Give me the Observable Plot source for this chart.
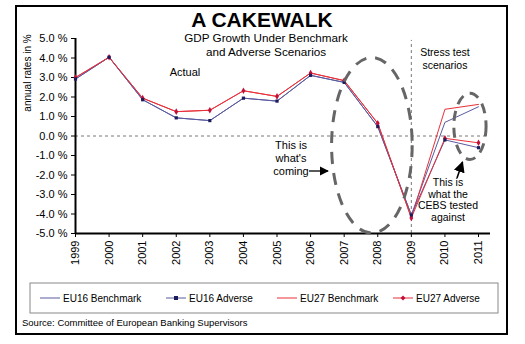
<!DOCTYPE html>
<html>
<head>
<meta charset="utf-8">
<script src="https://cdn.jsdelivr.net/npm/d3@7"></script>
<script src="https://cdn.jsdelivr.net/npm/@observablehq/plot@0.6"></script>
<style>
  html, body { margin: 0; padding: 0; background: #fff; }
  #chart { width: 525px; height: 344px; position: relative; }
  svg { font-family: "Liberation Sans", Arial, sans-serif; }
</style>
</head>
<body>
<div id="chart"></div>
<script>
// ---- data ----
const years = [1999, 2000, 2001, 2002, 2003, 2004, 2005, 2006, 2007, 2008, 2009, 2010, 2011];
const eu16Benchmark = [2.92, 4.04, 1.86, 0.93, 0.79, 1.94, 1.79, 3.11, 2.75, 0.48, -4.05, 0.70, 1.50];
const eu16Adverse   = [2.92, 4.04, 1.86, 0.93, 0.79, 1.94, 1.79, 3.11, 2.75, 0.48, -4.05, -0.20, -0.60];
const eu27Benchmark = [3.00, 4.04, 1.94, 1.25, 1.32, 2.32, 2.03, 3.23, 2.84, 0.65, -4.20, 1.37, 1.62];
const eu27Adverse   = [3.00, 4.04, 1.94, 1.25, 1.32, 2.32, 2.03, 3.23, 2.84, 0.65, -4.20, -0.12, -0.35];
const yTicks = [-5, -4, -3, -2, -1, 0, 1, 2, 3, 4, 5];
const seriesNames = ["EU16 Benchmark", "EU16 Adverse", "EU27 Benchmark", "EU27 Adverse"];
const titleText = "A CAKEWALK";
const subtitleLines = ["GDP Growth Under Benchmark", "and Adverse Scenarios"];
const yLabel = "annual rates in %";
const sourceText = "Source: Committee of European Banking Supervisors";
const stressYear = 2009;

const blue = "#5a5aa0", navy = "#1c1c5c", red = "#e8303a", darkRed = "#c0103a";
const xMax = 2011.357;

const rows = (vals) => years.map((yr, i) => ({year: yr, v: vals[i]}));

const chart = Plot.plot({
  width: 525,
  height: 344,
  marginLeft: 75,
  marginRight: 35,
  marginTop: 38,
  marginBottom: 111,
  style: {fontFamily: "Liberation Sans, Arial, sans-serif", background: "#fff", overflow: "visible"},
  x: {domain: [1999, xMax]},
  y: {domain: [-5, 5]},
  marks: [
    Plot.ruleY([0], {x1: 1999, x2: 2011.3, stroke: "#555", strokeWidth: 0.8, strokeDasharray: "3,3"}),
    Plot.ruleX([stressYear], {y1: -5, y2: 4.9, stroke: "#555", strokeWidth: 0.8, strokeDasharray: "3,3"}),
    Plot.axisY({ticks: yTicks, tickFormat: d => d.toFixed(1) + " %", tickSize: 4, tickPadding: 4, fontSize: 11, label: null, stroke: "#000", color: "#000"}),
    Plot.axisX({ticks: years, tickFormat: d => String(d), tickSize: 4, tickPadding: 3, tickRotate: -90, fontSize: 11, label: null, color: "#000"}),
    Plot.ruleX([1999], {y1: -5, y2: 5, stroke: "#000", strokeWidth: 2}),
    Plot.ruleY([-5], {x1: 1999, x2: xMax, stroke: "#000", strokeWidth: 2}),
    Plot.line(rows(eu16Benchmark), {x: "year", y: "v", stroke: blue, strokeWidth: 1}),
    Plot.line(rows(eu27Benchmark), {x: "year", y: "v", stroke: red, strokeWidth: 1}),
    Plot.line(rows(eu16Adverse), {x: "year", y: "v", stroke: blue, strokeWidth: 1}),
    Plot.line(rows(eu27Adverse), {x: "year", y: "v", stroke: red, strokeWidth: 1}),
    Plot.dot(rows(eu27Adverse), {x: "year", y: "v", symbol: "diamond", r: 2, fill: darkRed}),
    Plot.dot(rows(eu16Adverse), {x: "year", y: "v", symbol: "square", r: 1.8, fill: navy})
  ]
});

document.getElementById("chart").appendChild(chart);

const svg = d3.select(chart);
const xs = chart.scale("x"), ys = chart.scale("y");
const X = v => xs.apply(v), Y = v => ys.apply(v);
const pxPerYear = X(2000) - X(1999), pxPerUnit = Y(0) - Y(1);

// frame
svg.append("rect").attr("x", 16).attr("y", 6).attr("width", 491).attr("height", 328)
  .attr("fill", "none").attr("stroke", "#000").attr("stroke-width", 2);

// titles
svg.append("text").attr("x", 262).attr("y", 27).attr("text-anchor", "middle")
  .attr("font-size", 21).attr("font-weight", "bold").text(titleText);
subtitleLines.forEach((t, i) => {
  svg.append("text").attr("x", 266).attr("y", 42 + i * 14).attr("text-anchor", "middle")
    .attr("font-size", 11.7).text(t);
});
svg.append("text").attr("transform", "translate(31,73) rotate(-90)").attr("text-anchor", "middle")
  .attr("font-size", 10).text(yLabel);

// annotations
const ann = (lines, x, y, step, size) => lines.forEach((t, i) =>
  svg.append("text").attr("x", x).attr("y", y + i * step).attr("text-anchor", "middle")
    .attr("font-size", size).text(t));
ann(["Actual"], 185, 76, 0, 11);
ann(["Stress test", "scenarios"], 445, 56, 12.5, 10.5);
ann(["This is", "what's", "coming"], 291, 149, 13, 11);
ann(["This is", "what the", "CEBS tested", "against"], 448, 186, 11.5, 10.5);

// ellipses (data coordinates)
const ellipses = [
  {year: 2007.84, v: -0.5, ry: 4.5, rxYears: 1.2, dash: "12,9"},
  {year: 2010.76, v: 0.47, ry: 1.7, rxYears: 0.48, dash: "10,7"}
];
ellipses.forEach(e => {
  svg.append("ellipse").attr("cx", X(e.year)).attr("cy", Y(e.v))
    .attr("rx", e.rxYears * pxPerYear).attr("ry", e.ry * pxPerUnit)
    .attr("fill", "none").attr("stroke", "#666").attr("stroke-width", 3)
    .attr("stroke-dasharray", e.dash);
});

// arrows
const defs = svg.append("defs");
defs.append("marker").attr("id", "ah").attr("viewBox", "0 0 10 10").attr("refX", 9).attr("refY", 5)
  .attr("markerWidth", 7).attr("markerHeight", 7).attr("orient", "auto")
  .append("path").attr("d", "M0,0 L10,5 L0,10 z").attr("fill", "#000");
svg.append("line").attr("x1", 309).attr("y1", 171).attr("x2", 328).attr("y2", 171)
  .attr("stroke", "#000").attr("stroke-width", 1.3).attr("marker-end", "url(#ah)");
svg.append("line").attr("x1", 457).attr("y1", 178).attr("x2", 462.5).attr("y2", 162)
  .attr("stroke", "#000").attr("stroke-width", 1.6).attr("marker-end", "url(#ah)");

// legend
svg.append("rect").attr("x", 30).attr("y", 283).attr("width", 468).attr("height", 30)
  .attr("fill", "none").attr("stroke", "#888").attr("stroke-width", 1);
const legendItems = [
  {name: seriesNames[0], color: blue, x: 40, sym: null},
  {name: seriesNames[1], color: blue, x: 166, sym: "square"},
  {name: seriesNames[2], color: red, x: 277, sym: null},
  {name: seriesNames[3], color: red, x: 393, sym: "diamond"}
];
legendItems.forEach(it => {
  svg.append("line").attr("x1", it.x).attr("x2", it.x + 20).attr("y1", 298).attr("y2", 298)
    .attr("stroke", it.color).attr("stroke-width", 1);
  if (it.sym === "square") {
    svg.append("rect").attr("x", it.x + 10 - 2).attr("y", 296).attr("width", 4).attr("height", 4).attr("fill", navy);
  } else if (it.sym === "diamond") {
    svg.append("path").attr("d", `M${it.x + 10},295.5 l2.5,2.5 l-2.5,2.5 l-2.5,-2.5 z`).attr("fill", darkRed);
  }
  svg.append("text").attr("x", it.x + 23).attr("y", 301.5).attr("text-anchor", "start")
    .attr("font-size", 10).text(it.name);
});

// source
svg.append("text").attr("x", 22).attr("y", 326).attr("text-anchor", "start")
  .attr("font-size", 9.5).text(sourceText);
</script>
</body>
</html>
